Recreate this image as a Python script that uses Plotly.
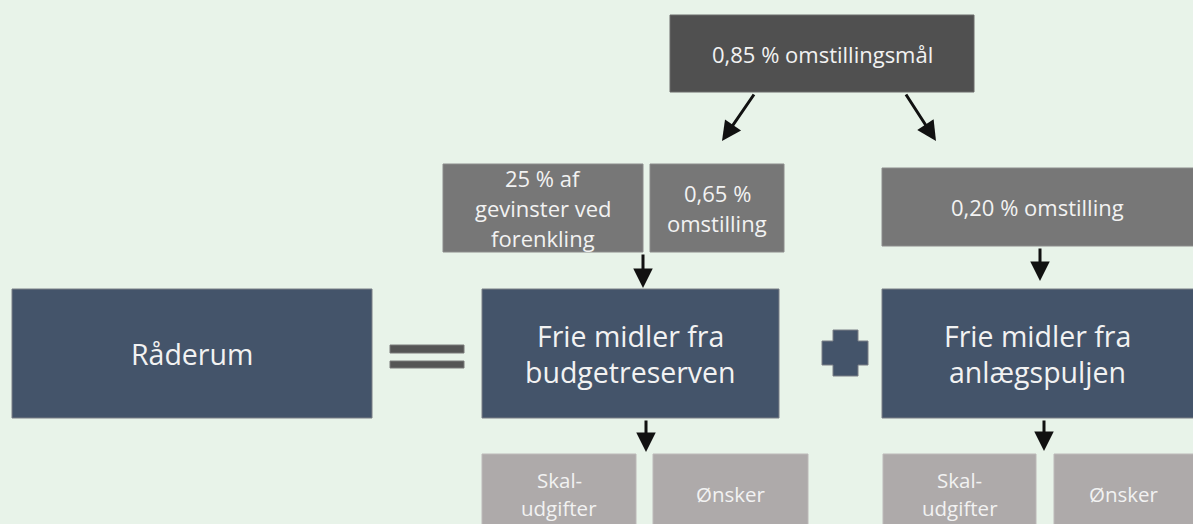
import plotly.graph_objects as go

# ---- content (text) ----
top_labels = [["0,85 % omstillingsmål"]]
mid_labels = [["25 % af", "gevinster ved", "forenkling"],
              ["0,65 %", "omstilling"],
              ["0,20 % omstilling"]]
main_labels = [["Råderum"],
               ["Frie midler fra", "budgetreserven"],
               ["Frie midler fra", "anlægspuljen"]]
bottom_labels = [["Skal-", "udgifter"], ["Ønsker"],
                 ["Skal-", "udgifter"], ["Ønsker"]]

# ---- layout geometry (x0, x1, y0, y1) in pixel-like units ----
top_boxes = [(670, 974, 15, 92)]
mid_boxes = [(443, 643, 164, 252), (650, 784, 164, 252), (882, 1200, 168, 246)]
main_boxes = [(12, 372, 289, 418), (482, 779, 289, 418), (882, 1200, 289, 418)]
bottom_boxes = [(482, 636, 454, 534), (653, 808, 454, 534),
                (883, 1036, 454, 534), (1054, 1200, 454, 534)]

# arrows: (tail_x, tail_y, tip_x, tip_y)
arrows = [(755, 93, 722, 141), (905, 93, 936, 141),
          (643, 253, 643, 288), (1040, 247, 1040, 281),
          (646, 419, 646, 452), (1044, 419, 1044, 451)]

BG = "#E8F3E9"
FONT = "Open Sans"
TXT = "#F2F2F2"

fig = go.Figure()
shapes = []
annotations = []


def add_tier(boxes, labels, fill, edge, size, spacing):
    for (x0, x1, y0, y1), lines in zip(boxes, labels):
        shapes.append(dict(type="rect", xref="x", yref="y", x0=x0, x1=x1, y0=y0, y1=y1,
                           fillcolor=fill, line=dict(color=edge, width=1), layer="below"))
        cx = (min(x1, 1193) + x0) / 2
        cy = (min(y1, 534) + y0) / 2
        n = len(lines)
        for i, t in enumerate(lines):
            annotations.append(dict(x=cx, y=cy + (i - (n - 1) / 2) * spacing, xref="x", yref="y",
                                    text=t, showarrow=False, xanchor="center", yanchor="middle",
                                    font=dict(family=FONT, size=size, color=TXT)))


add_tier(top_boxes, top_labels, "#505050", "#6A6A6A", 22, 30)
add_tier(mid_boxes, mid_labels, "#777777", "#8C8C8C", 22, 30)
add_tier(main_boxes, main_labels, "#44546A", "#7A7F86", 28.5, 36)
add_tier(bottom_boxes, bottom_labels, "#AEAAAA", "#BDB9B9", 20.5, 28)

# equals sign
for (y0, y1) in [(345, 353), (361, 368)]:
    shapes.append(dict(type="rect", xref="x", yref="y", x0=390, x1=464, y0=y0, y1=y1,
                       fillcolor="#555555", line=dict(color="#7A7A7A", width=1)))
# plus sign
shapes.append(dict(type="path", xref="x", yref="y",
                   path="M 833 330 L 858 330 L 858 341 L 868 341 L 868 365 L 858 365 L 858 376 "
                        "L 833 376 L 833 365 L 822 365 L 822 341 L 833 341 Z",
                   fillcolor="#44546A", line=dict(color="#7A7F86", width=1)))

for (ax, ay, x, y) in arrows:
    annotations.append(dict(x=x, y=y, ax=ax, ay=ay, xref="x", yref="y", axref="x", ayref="y",
                            text="", showarrow=True, arrowhead=2, arrowsize=1.3,
                            arrowwidth=3, arrowcolor="#111111", standoff=0))

fig.update_layout(
    width=1193, height=524, margin=dict(l=0, r=0, t=0, b=0),
    paper_bgcolor=BG, plot_bgcolor=BG,
    xaxis=dict(range=[0, 1193], visible=False, fixedrange=True),
    yaxis=dict(range=[524, 0], visible=False, fixedrange=True),
    shapes=shapes, annotations=annotations, showlegend=False,
)

fig.write_html("out.html", config={"displayModeBar": False},
               post_script="document.body.style.margin='0';document.body.style.padding='0';"
                           "document.body.style.overflow='hidden';"
                           "document.body.style.background='" + BG + "';")
